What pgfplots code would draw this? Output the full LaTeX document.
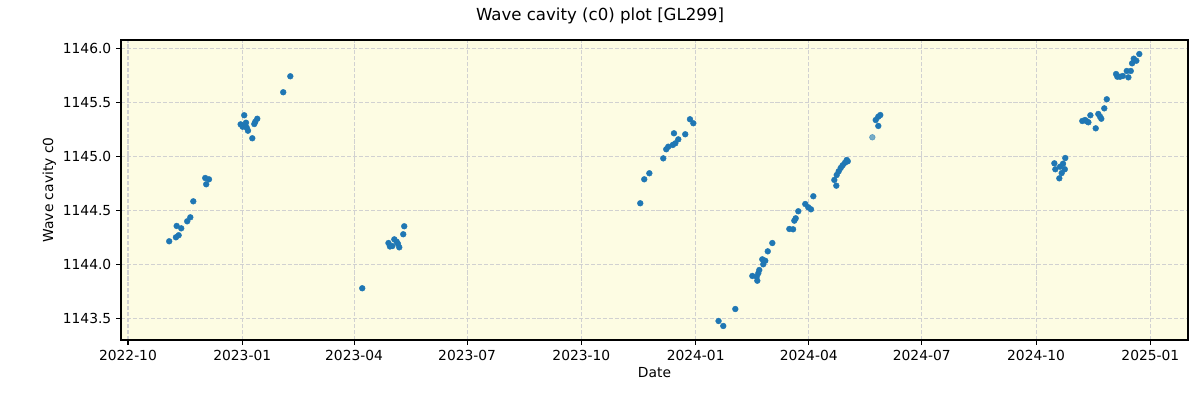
\documentclass[border=0pt]{standalone}
\usepackage{fontspec}
\setmainfont{DejaVu Sans}
\usepackage{pgfplots}
\usepackage{pgfplotstable}
\pgfplotsset{compat=1.18}
\definecolor{tabblue}{HTML}{1F77B4}
\definecolor{bgyellow}{RGB}{253,252,227}
\pgfplotstableread{
x y
33.2 1144.213
38.6 1144.250
40.8 1144.269
39.2 1144.355
42.9 1144.333
47.7 1144.398
50.2 1144.435
52.6 1144.583
62.2 1144.799
65.2 1144.787
63.0 1144.741
90.7 1145.296
93.6 1145.380
92.3 1145.274
95.0 1145.311
94.2 1145.281
95.6 1145.265
96.6 1145.237
100.1 1145.167
101.7 1145.299
102.5 1145.320
104.1 1145.348
125.0 1145.593
130.7 1145.741
188.6 1143.778
209.7 1144.197
210.9 1144.165
212.8 1144.169
214.4 1144.231
216.3 1144.209
217.4 1144.188
218.4 1144.157
221.6 1144.278
222.4 1144.352
412.4 1144.565
415.6 1144.787
419.7 1144.843
430.9 1144.981
433.3 1145.065
434.9 1145.089
438.5 1145.105
439.5 1145.213
440.6 1145.120
443.0 1145.157
448.6 1145.204
452.4 1145.343
455.1 1145.306
475.4 1143.475
479.2 1143.429
488.9 1143.586
502.6 1143.892
506.6 1143.848
506.1 1143.885
507.4 1143.917
508.2 1143.947
511.4 1144.000
510.6 1144.046
513.0 1144.033
515.0 1144.120
518.7 1144.197
532.4 1144.327
535.4 1144.324
536.4 1144.404
537.5 1144.426
539.6 1144.491
545.2 1144.558
547.6 1144.528
549.8 1144.509
551.7 1144.630
568.6 1144.781
570.2 1144.728
570.5 1144.827
572.1 1144.861
573.7 1144.892
575.3 1144.917
577.2 1144.941
578.6 1144.966
579.4 1144.954
601.9 1145.336
604.0 1145.367
605.6 1145.382
604.0 1145.281
745.7 1144.935
746.5 1144.880
749.7 1144.796
750.3 1144.904
751.6 1144.845
752.7 1144.931
754.1 1144.880
754.5 1144.984
768.2 1145.327
770.4 1145.336
771.8 1145.324
773.1 1145.315
774.7 1145.380
779.0 1145.259
781.1 1145.392
782.5 1145.367
783.5 1145.348
785.9 1145.444
787.9 1145.528
795.4 1145.762
796.4 1145.737
798.6 1145.737
800.8 1145.744
804.0 1145.790
805.3 1145.731
807.2 1145.790
808.3 1145.861
809.6 1145.904
811.7 1145.885
814.1 1145.947
}\maindata
\pgfplotstableread{
x y
599.2 1145.176
}\lightdata
\begin{document}
\begin{tikzpicture}
\path[use as bounding box] (-1.21in,-0.60in) rectangle (10.79in,3.40in);
\node[font=\fontsize{12}{14}\selectfont] at (4.79in,3.24in) {Wave cavity (c0) plot [GL299]};
\begin{axis}[
  at={(0,0)}, anchor=south west,
  scale only axis,
  width=10.67in, height=3in,
  xmin=-5.6, xmax=853.3,
  ymin=1143.299, ymax=1146.077,
  axis background/.style={fill=bgyellow},
  axis line style={line width=0.8pt},
  xtick={0,92,182,273,365,457,548,639,731,823},
  xticklabels={2022-10,2023-01,2023-04,2023-07,2023-10,2024-01,2024-04,2024-07,2024-10,2025-01},
  ytick={1143.5,1144.0,1144.5,1145.0,1145.5,1146.0},
  yticklabel style={/pgf/number format/.cd, fixed, fixed zerofill, precision=1, 1000 sep={}},
  /pgf/number format/assume math mode=true,
  tick label style={font=\fontsize{10}{12}\selectfont},
  tick align=outside,
  major tick length=3.5pt,
  every tick/.style={line width=0.8pt, black},
  xtick pos=bottom, ytick pos=left,
  grid=major,
  major grid style={dash pattern=on 3pt off 1.3pt, line width=0.8pt, color=black!18},
  xlabel={Date}, ylabel={Wave cavity c0},
  label style={font=\fontsize{10}{12}\selectfont},
  xlabel style={yshift=2pt},
  ylabel style={yshift=-2pt},
  clip=true,
]
\addplot[only marks, mark=*, mark size=2.1pt, color=tabblue, mark options={draw=tabblue, fill=tabblue, line width=0.3pt}] table[x=x,y=y] {\maindata};
\addplot[only marks, mark=*, mark size=2.1pt, color=tabblue, mark options={draw=tabblue, fill=tabblue, line width=0.3pt, opacity=0.6}] table[x=x,y=y] {\lightdata};
\end{axis}
\end{tikzpicture}
\end{document}
